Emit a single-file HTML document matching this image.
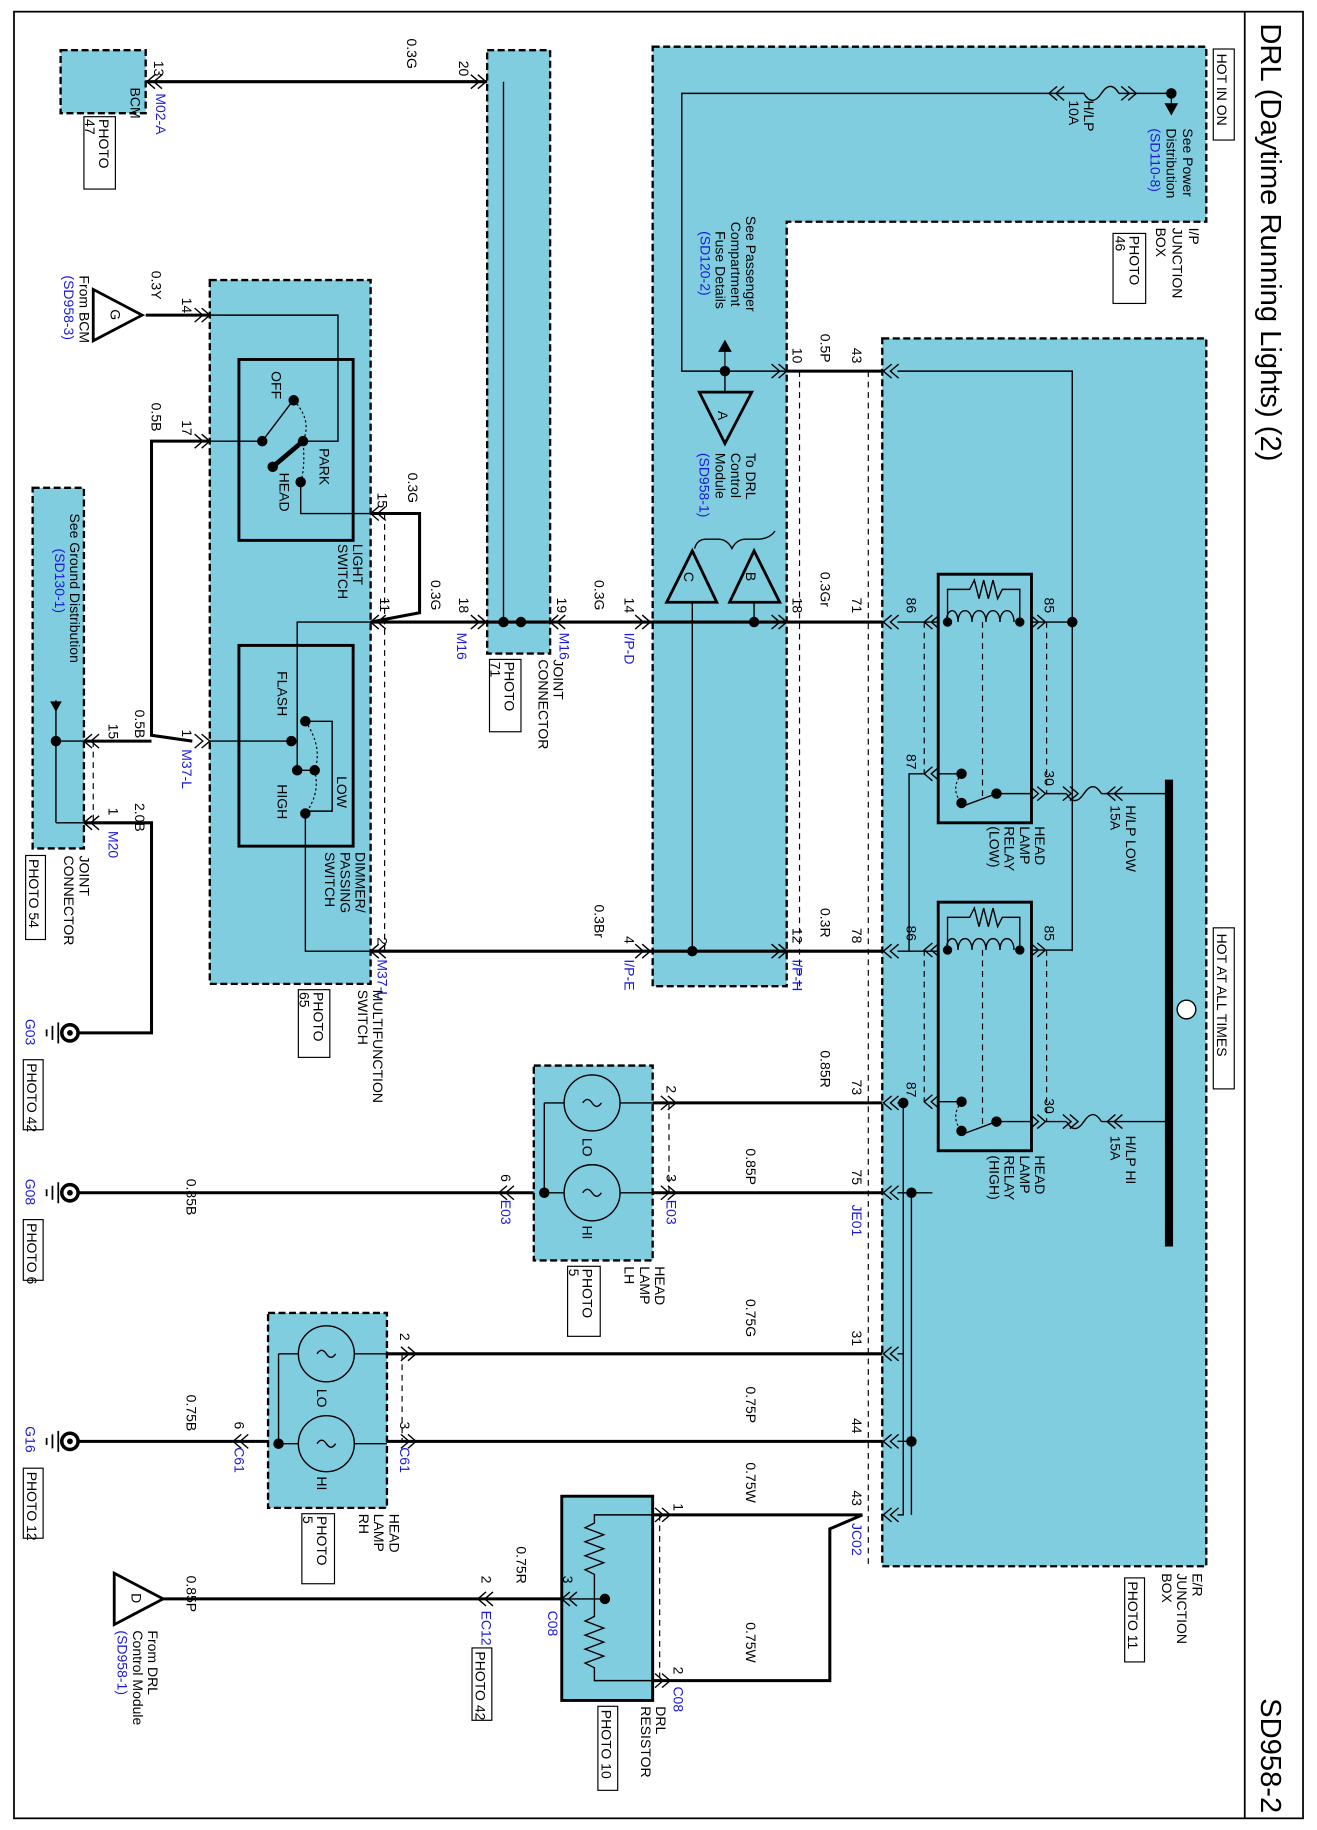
<!DOCTYPE html>
<html><head><meta charset="utf-8"><style>
html,body{margin:0;padding:0;background:#fff}
svg{display:block}
text{font-family:"Liberation Sans",Arial,sans-serif;font-size:12px;fill:#000}
.b{fill:#1a1adb}
.w{stroke:#000;stroke-width:2.6;fill:none}
.t{stroke:#000;stroke-width:1.2;fill:none}
.bx{fill:#80cde0;stroke:#000;stroke-width:2;stroke-dasharray:6 3}
.d{stroke:#000;stroke-width:1;stroke-dasharray:5 4;fill:none}
.k{stroke:#000;stroke-width:2.4;fill:none}
</style></head><body>
<svg width="1317" height="1830" viewBox="0 0 1130 1568" preserveAspectRatio="none" xmlns="http://www.w3.org/2000/svg">
<defs>
<g id="cv"><path d="M7,-6 L0,0 L7,6 M13,-6 L6,0 L13,6" fill="none" stroke="#000" stroke-width="1.2"/></g>
<g id="cr"><path d="M-7,-6 L0,0 L-7,6 M-13,-6 L-6,0 L-13,6" fill="none" stroke="#000" stroke-width="1.2"/></g>
<g id="dot"><circle r="4.5" fill="#000"/></g>
<g id="gnd">
<circle cx="60" cy="0" r="7" fill="#fff" stroke="#000" stroke-width="3"/><circle cx="60" cy="0" r="2.5" fill="#000"/>
<path d="M50,-9 V9 M45,-6 V6 M40,-3 V3" stroke="#000" stroke-width="1.5"/>
</g>
</defs>
<rect x="12" y="10" width="1106" height="1548" fill="none" stroke="#000" stroke-width="1.5"/>
<line x1="1068" y1="10" x2="1068" y2="1558" stroke="#000" stroke-width="1.5"/>
<text transform="translate(1082,20) rotate(90)" style="font-size:25px">DRL (Daytime Running Lights) (2)</text>
<text transform="translate(1082,1455) rotate(90)" style="font-size:25px">SD958-2</text>

<rect class="bx" x="52" y="43" width="73" height="54"/>
<rect class="bx" x="418" y="43" width="54" height="517"/>
<path class="bx" d="M560,40 H1035 V190 H675 V845 H560 Z"/>
<rect class="bx" x="757" y="290" width="278" height="1052"/>
<rect class="bx" x="180" y="240" width="138" height="603"/>
<rect class="bx" x="28" y="418" width="44" height="309"/>
<rect class="bx" x="458" y="913" width="102" height="167"/>
<rect class="bx" x="230" y="1125" width="102" height="167"/>
<rect x="482" y="1282" width="78" height="175" fill="#80cde0" stroke="#000" stroke-width="2.5"/>

<path class="w" d="M125,70 H418"/>
<use href="#cv" x="126" y="70"/><use href="#cr" x="417" y="70"/>
<text transform="translate(132,52) rotate(90)">13</text>
<text class="b" transform="translate(134,80) rotate(90)">M02-A</text>
<text transform="translate(349,33) rotate(90)">0.3G</text>
<text transform="translate(394,52) rotate(90)">20</text>
<text transform="translate(112,75) rotate(90)">BCM</text>
<rect x="72" y="100" width="27" height="62" fill="none" stroke="#000"/>
<text transform="translate(85,102) rotate(90)">PHOTO</text><text transform="translate(73,102) rotate(90)">47</text>
<path class="t" d="M432,70 V533"/>
<use href="#dot" x="432" y="533"/><use href="#dot" x="447" y="533"/>
<text transform="translate(475,565) rotate(90)">JOINT</text>
<text transform="translate(462,565) rotate(90)">CONNECTOR</text>
<rect x="420" y="565" width="27" height="62" fill="none" stroke="#000"/>
<text transform="translate(433,567) rotate(90)">PHOTO</text><text transform="translate(421,567) rotate(90)">71</text>

<path class="t" d="M1005,80 H960 M930,80 H585 V318 H675"/>
<path d="M960,80 q-7,-12 -15,0 q-8,12 -15,0" class="t"/>
<use href="#cr" x="975" y="80"/><use href="#cv" x="900" y="80"/>
<use href="#dot" x="1005" y="80"/>
<path d="M1005,80 V90 M1005,98 l-5,-9 h10 z" stroke="#000" fill="#000"/>
<rect x="1041" y="42" width="18" height="78" fill="#fff" stroke="#000"/>
<text transform="translate(1044,46) rotate(90)">HOT IN ON</text>
<text transform="translate(1015,110) rotate(90)">See Power</text>
<text transform="translate(1001,110) rotate(90)">Distribution</text>
<text class="b" transform="translate(987,110) rotate(90)">(SD110-8)</text>
<text transform="translate(930,86) rotate(90)">H/LP</text>
<text transform="translate(917,86) rotate(90)">10A</text>
<text transform="translate(1020,195) rotate(90)">I/P</text>
<text transform="translate(1006,195) rotate(90)">JUNCTION</text>
<text transform="translate(992,195) rotate(90)">BOX</text>
<rect x="955" y="200" width="28" height="60" fill="none" stroke="#000"/>
<text transform="translate(969,202) rotate(90)">PHOTO</text><text transform="translate(957,202) rotate(90)">46</text>
<text transform="translate(640,185) rotate(90)">See Passenger</text>
<text transform="translate(627,190) rotate(90)">Compartment</text>
<text transform="translate(614,198) rotate(90)">Fuse Details</text>
<text class="b" transform="translate(601,198) rotate(90)">(SD120-2)</text>
<use href="#dot" x="622" y="318"/>
<path d="M622,318 V300 M622,292 l-5,9 h10 z" stroke="#000" fill="#000"/>
<path d="M622,318 V336" class="t"/>
<path d="M600,336 H645 L622,380 Z" class="k"/><text transform="translate(616,352) rotate(90)">A</text>
<text transform="translate(640,388) rotate(90)">To DRL</text>
<text transform="translate(627,388) rotate(90)">Control</text>
<text transform="translate(614,388) rotate(90)">Module</text>
<text class="b" transform="translate(600,388) rotate(90)">(SD958-1)</text>
<path d="M665,455 Q660,462 650,462 L640,462 Q632,462 628,470 Q624,462 616,462 L606,462 Q598,462 596,470" class="t"/>
<path d="M626,516 H669 L647,472 Z" class="k"/><text transform="translate(640,490) rotate(90)">B</text>
<path d="M572,516 H615 L594,472 Z" class="k"/><text transform="translate(587,490) rotate(90)">C</text>
<path class="t" d="M647,516 V533 M594,516 V815"/>
<use href="#dot" x="647" y="533"/><use href="#dot" x="594" y="815"/>

<path class="w" d="M675,318 H757"/>
<use href="#cr" x="675" y="318"/><use href="#cv" x="758" y="318"/>
<path class="t" d="M770,318 H920 V815"/>
<text transform="translate(680,298) rotate(90)">10</text>
<text transform="translate(704,286) rotate(90)">0.5P</text>
<text transform="translate(731,298) rotate(90)">43</text>
<line x1="686" y1="318" x2="686" y2="845" class="d"/><line x1="745" y1="318" x2="745" y2="1340" class="d"/>

<path class="w" d="M318,533 H757"/>
<path class="t" d="M560,533 H675"/>
<use href="#cv" x="318" y="533"/><use href="#cr" x="417" y="533"/><use href="#cv" x="472" y="533"/>
<use href="#cr" x="558" y="533"/><use href="#cr" x="675" y="533"/><use href="#cv" x="758" y="533"/>
<text transform="translate(326,512) rotate(90)">11</text>
<text transform="translate(370,497) rotate(90)">0.3G</text>
<text transform="translate(394,512) rotate(90)">18</text>
<text class="b" transform="translate(392,542) rotate(90)">M16</text>
<text transform="translate(478,512) rotate(90)">19</text>
<text class="b" transform="translate(480,542) rotate(90)">M16</text>
<text transform="translate(510,497) rotate(90)">0.3G</text>
<text transform="translate(536,512) rotate(90)">14</text>
<text class="b" transform="translate(536,542) rotate(90)">I/P-D</text>
<text transform="translate(680,512) rotate(90)">18</text>
<text transform="translate(704,490) rotate(90)">0.3Gr</text>
<text transform="translate(731,512) rotate(90)">71</text>
<path class="t" d="M770,533 H805"/>

<path class="w" d="M318,815 H757"/>
<path class="t" d="M560,815 H675"/>
<use href="#cv" x="318" y="815"/><use href="#cr" x="558" y="815"/><use href="#cr" x="675" y="815"/><use href="#cv" x="758" y="815"/>
<text transform="translate(324,803) rotate(90)">2</text>
<text class="b" transform="translate(324,822) rotate(90)">M37-L</text>
<text transform="translate(510,775) rotate(90)">0.3Br</text>
<text transform="translate(536,802) rotate(90)">4</text>
<text class="b" transform="translate(536,822) rotate(90)">I/P-E</text>
<text transform="translate(680,795) rotate(90)">12</text>
<text class="b" transform="translate(680,822) rotate(90)">I/P-H</text>
<text transform="translate(704,778) rotate(90)">0.3R</text>
<text transform="translate(731,795) rotate(90)">78</text>
<path class="t" d="M770,815 H805"/>

<g id="relay">
<rect x="805" y="492" width="80" height="213" fill="none" stroke="#000" stroke-width="2.5"/>
<path class="t" d="M812,533 C812,520 822,520 822,533 C822,520 834,520 834,533 C834,520 846,520 846,533 C846,520 858,520 858,533 C858,520 870,520 870,533"/>
<path class="t" d="M813,533 V505 H832 l4,-8 4,16 4,-16 4,16 4,-16 4,16 4,-8 H875 V533"/>
<circle cx="813" cy="533" r="4" fill="#000"/><circle cx="875" cy="533" r="4" fill="#000"/>
<path class="t" d="M885,533 H920 M885,680 H855 M805,663 H825"/>
<use href="#dot" x="825" y="663"/><use href="#dot" x="825" y="688"/><use href="#dot" x="855" y="680"/>
<path class="t" d="M855,680 L828,690"/>
<path d="M825,663 Q815,676 825,688" stroke="#000" fill="none" stroke-dasharray="2 2"/>
<line x1="843" y1="533" x2="843" y2="683" class="d"/>
<line x1="793" y1="533" x2="793" y2="663" class="d"/>
<line x1="898" y1="533" x2="898" y2="680" class="d"/>
<use href="#cv" x="793" y="533"/><use href="#cr" x="897" y="533"/>
<use href="#cv" x="793" y="663"/><use href="#cr" x="897" y="680"/>
<text transform="translate(778,512) rotate(90)">86</text>
<text transform="translate(896,512) rotate(90)">85</text>
<text transform="translate(778,646) rotate(90)">87</text>
<text transform="translate(896,660) rotate(90)">30</text>
</g>
<use href="#relay" x="0" y="281"/>
<use href="#dot" x="920" y="533"/>
<path class="t" d="M793,663 H780 V815"/>
<text transform="translate(888,708) rotate(90)">HEAD</text><text transform="translate(875,708) rotate(90)">LAMP</text>
<text transform="translate(862,708) rotate(90)">RELAY</text><text transform="translate(849,708) rotate(90)">(LOW)</text>
<text transform="translate(888,990) rotate(90)">HEAD</text><text transform="translate(875,990) rotate(90)">LAMP</text>
<text transform="translate(862,990) rotate(90)">RELAY</text><text transform="translate(849,990) rotate(90)">(HIGH)</text>
<line x1="1003" y1="668" x2="1003" y2="1068" stroke="#000" stroke-width="7"/>
<path class="t" d="M897,680 H915 M945,680 H1003 M897,961 H915 M945,961 H1003"/>
<path d="M945,680 q-7,-12 -15,0 q-8,12 -15,0" class="t"/>
<path d="M945,961 q-7,-12 -15,0 q-8,12 -15,0" class="t"/>
<use href="#cv" x="950" y="680"/><use href="#cr" x="925" y="680"/>
<use href="#cv" x="950" y="961"/><use href="#cr" x="925" y="961"/>
<text transform="translate(966,690) rotate(90)">H/LP LOW</text><text transform="translate(953,690) rotate(90)">15A</text>
<text transform="translate(966,973) rotate(90)">H/LP HI</text><text transform="translate(953,973) rotate(90)">15A</text>
<circle cx="1018" cy="865" r="8" fill="#fff" stroke="#000" stroke-width="1.2"/>
<rect x="1041" y="795" width="18" height="138" fill="#fff" stroke="#000"/>
<text transform="translate(1044,800) rotate(90)">HOT AT ALL TIMES</text>

<path class="t" d="M770,945 H775 V1298 H770 M770,1022 H800 M770,1160 H775 M770,1235 H782 M782,1022 V1298"/>
<use href="#dot" x="775" y="945"/><use href="#dot" x="782" y="1022"/><use href="#dot" x="782" y="1235"/>
<path class="w" d="M560,945 H757 M560,1022 H757 M332,1160 H757 M332,1235 H757"/>
<path class="w" d="M63,1022 H458 M63,1235 H230"/>
<use href="#cr" x="580" y="945"/><use href="#cr" x="580" y="1022"/><use href="#cv" x="758" y="945"/><use href="#cv" x="758" y="1022"/>
<use href="#cr" x="357" y="1160"/><use href="#cr" x="357" y="1235"/><use href="#cv" x="758" y="1160"/><use href="#cv" x="758" y="1235"/><use href="#cv" x="758" y="1298"/>
<use href="#cv" x="428" y="1022"/><use href="#cv" x="200" y="1235"/>
<line x1="574" y1="945" x2="574" y2="1022" class="d"/><line x1="345" y1="1160" x2="345" y2="1235" class="d"/>
<text transform="translate(572,930) rotate(90)">2</text><text transform="translate(572,1006) rotate(90)">3</text>
<text class="b" transform="translate(572,1028) rotate(90)">E03</text>
<text transform="translate(430,1006) rotate(90)">6</text><text class="b" transform="translate(430,1028) rotate(90)">E03</text>
<text transform="translate(704,900) rotate(90)">0.85R</text><text transform="translate(640,984) rotate(90)">0.85P</text>
<text transform="translate(731,925) rotate(90)">73</text><text transform="translate(731,1002) rotate(90)">75</text>
<text class="b" transform="translate(731,1032) rotate(90)">JE01</text>
<text transform="translate(160,1010) rotate(90)">0.85B</text>
<text transform="translate(640,1113) rotate(90)">0.75G</text><text transform="translate(640,1188) rotate(90)">0.75P</text>
<text transform="translate(640,1253) rotate(90)">0.75W</text><text transform="translate(640,1390) rotate(90)">0.75W</text>
<text transform="translate(731,1140) rotate(90)">31</text><text transform="translate(731,1215) rotate(90)">44</text>
<text transform="translate(731,1277) rotate(90)">43</text><text class="b" transform="translate(731,1305) rotate(90)">JC02</text>
<text transform="translate(343,1142) rotate(90)">2</text><text transform="translate(343,1218) rotate(90)">3</text>
<text class="b" transform="translate(343,1240) rotate(90)">C61</text>
<text transform="translate(201,1218) rotate(90)">6</text><text class="b" transform="translate(201,1240) rotate(90)">C61</text>
<text transform="translate(160,1195) rotate(90)">0.75B</text>
<g id="lamp">
<circle cx="508" cy="945" r="24" class="t"/><circle cx="508" cy="1022" r="24" class="t"/>
<path class="t" d="M500,945 q4,-6 8,0 q4,6 8,0 M500,1022 q4,-6 8,0 q4,6 8,0"/>
<path class="t" d="M467,945 H484 M532,945 H560 M467,1022 H484 M532,1022 H560 M467,945 V1022"/>
<use href="#dot" x="467" y="1022"/>
<text transform="translate(500,975) rotate(90)">LO</text>
<text transform="translate(500,1050) rotate(90)">HI</text>
</g>
<use href="#lamp" x="-228" y="215"/>
<text transform="translate(562,1085) rotate(90)">HEAD</text><text transform="translate(549,1085) rotate(90)">LAMP</text><text transform="translate(536,1085) rotate(90)">LH</text>
<rect x="487" y="1085" width="28" height="60" fill="none" stroke="#000"/>
<text transform="translate(500,1087) rotate(90)">PHOTO</text><text transform="translate(488,1087) rotate(90)">5</text>
<text transform="translate(334,1297) rotate(90)">HEAD</text><text transform="translate(321,1297) rotate(90)">LAMP</text><text transform="translate(308,1297) rotate(90)">RH</text>
<rect x="259" y="1297" width="28" height="60" fill="none" stroke="#000"/>
<text transform="translate(272,1299) rotate(90)">PHOTO</text><text transform="translate(260,1299) rotate(90)">5</text>
<use href="#gnd" x="0" y="885"/><use href="#gnd" x="0" y="1022"/><use href="#gnd" x="0" y="1235"/>
<text class="b" transform="translate(22,873) rotate(90)">G03</text>
<rect x="20" y="908" width="17" height="60" fill="none" stroke="#000"/><text transform="translate(23,911) rotate(90)">PHOTO 42</text>
<text class="b" transform="translate(22,1010) rotate(90)">G08</text>
<rect x="20" y="1045" width="17" height="52" fill="none" stroke="#000"/><text transform="translate(23,1048) rotate(90)">PHOTO 6</text>
<text class="b" transform="translate(22,1222) rotate(90)">G16</text>
<rect x="20" y="1258" width="17" height="60" fill="none" stroke="#000"/><text transform="translate(23,1261) rotate(90)">PHOTO 12</text>

<path class="w" d="M560,1298 H720 L740,1298 M740,1298 L712,1310 V1440 H560"/>
<use href="#cr" x="575" y="1298"/><use href="#cr" x="575" y="1440"/>
<line x1="566" y1="1298" x2="566" y2="1440" class="d"/>
<text transform="translate(578,1288) rotate(90)">1</text><text transform="translate(578,1428) rotate(90)">2</text>
<text class="b" transform="translate(578,1445) rotate(90)">C08</text>
<path class="t" d="M560,1298 H510 V1305 l-8,4 16,6 -16,6 16,6 -16,6 16,6 -16,6 8,4 V1370 V1385 l-8,4 16,6 -16,6 16,6 -16,6 16,6 -16,6 8,4 V1440 H560"/>
<use href="#dot" x="519" y="1370"/>
<path class="t" d="M482,1370 H519"/>
<path class="w" d="M140,1370 H482"/>
<use href="#cv" x="482" y="1370"/><use href="#cv" x="410" y="1370"/>
<text transform="translate(483,1350) rotate(90)">3</text><text class="b" transform="translate(470,1380) rotate(90)">C08</text>
<text transform="translate(443,1325) rotate(90)">0.75R</text>
<text transform="translate(413,1350) rotate(90)">2</text><text class="b" transform="translate(413,1380) rotate(90)">EC12</text>
<rect x="405" y="1412" width="17" height="62" fill="none" stroke="#000"/><text transform="translate(408,1415) rotate(90)">PHOTO 42</text>
<text transform="translate(160,1350) rotate(90)">0.85P</text>
<path d="M98,1348 V1392 L140,1370 Z" class="k"/><text transform="translate(113,1365) rotate(90)">D</text>
<text transform="translate(127,1397) rotate(90)">From DRL</text><text transform="translate(114,1397) rotate(90)">Control Module</text>
<text class="b" transform="translate(101,1397) rotate(90)">(SD958-1)</text>
<text transform="translate(563,1462) rotate(90)">DRL</text><text transform="translate(550,1462) rotate(90)">RESISTOR</text>
<rect x="513" y="1462" width="17" height="72" fill="none" stroke="#000"/><text transform="translate(516,1465) rotate(90)">PHOTO 10</text>
<text transform="translate(1023,1348) rotate(90)">E/R</text><text transform="translate(1010,1348) rotate(90)">JUNCTION</text><text transform="translate(997,1348) rotate(90)">BOX</text>
<rect x="965" y="1352" width="17" height="72" fill="none" stroke="#000"/><text transform="translate(968,1355) rotate(90)">PHOTO 11</text>

<path class="w" d="M125,270 H180"/>
<path d="M80,248 V292 L122,270 Z" class="k"/><text transform="translate(95,265) rotate(90)">G</text>
<use href="#cr" x="180" y="270"/><text transform="translate(156,255) rotate(90)">14</text>
<text transform="translate(130,232) rotate(90)">0.3Y</text>
<text transform="translate(68,236) rotate(90)">From BCM</text><text class="b" transform="translate(55,236) rotate(90)">(SD958-3)</text>
<path class="t" d="M180,270 H290 V378 H260"/>
<rect x="205" y="308" width="98" height="155" fill="none" stroke="#000" stroke-width="2.5"/>
<path class="t" d="M180,378 H225 L250,345"/>
<use href="#dot" x="225" y="378"/><use href="#dot" x="252" y="343"/><use href="#dot" x="260" y="378"/><use href="#dot" x="234" y="400"/><use href="#dot" x="258" y="413"/>
<path d="M260,378 L234,400" stroke="#000" stroke-width="4"/>
<path d="M252,343 Q268,360 260,378 Q262,400 258,413" stroke="#000" fill="none" stroke-dasharray="2 2"/>
<path class="t" d="M258,413 V440 H318"/>
<text transform="translate(233,318) rotate(90)">OFF</text>
<text transform="translate(274,384) rotate(90)">PARK</text>
<text transform="translate(240,405) rotate(90)">HEAD</text>
<text transform="translate(303,466) rotate(90)">LIGHT</text><text transform="translate(290,466) rotate(90)">SWITCH</text>
<path class="w" d="M318,440 H360 V525 L318,533"/>
<use href="#cv" x="318" y="440"/>
<text transform="translate(324,422) rotate(90)">15</text><text transform="translate(350,405) rotate(90)">0.3G</text>
<use href="#cr" x="180" y="378"/><text transform="translate(156,360) rotate(90)">17</text>
<path class="w" d="M180,378 H130 V630 L165,635"/>
<text transform="translate(130,345) rotate(90)">0.5B</text>
<use href="#cr" x="180" y="635"/><text transform="translate(156,625) rotate(90)">1</text>
<text class="b" transform="translate(156,642) rotate(90)">M37-L</text>
<rect x="205" y="553" width="98" height="172" fill="none" stroke="#000" stroke-width="2.5"/>
<path class="t" d="M318,533 H255 V660 H270"/>
<path class="t" d="M180,635 H250"/>
<use href="#dot" x="250" y="635"/><use href="#dot" x="270" y="660"/><use href="#dot" x="255" y="660"/><use href="#dot" x="262" y="618"/><use href="#dot" x="262" y="697"/>
<path class="t" d="M262,618 H285 V695 H262 M262,697 V815 H318"/>
<path d="M262,618 Q277,640 270,660 Q275,680 262,697" stroke="#000" fill="none" stroke-dasharray="2 2"/>
<text transform="translate(238,575) rotate(90)">FLASH</text>
<text transform="translate(289,665) rotate(90)">LOW</text>
<text transform="translate(238,672) rotate(90)">HIGH</text>
<text transform="translate(305,730) rotate(90)">DIMMER/</text><text transform="translate(292,730) rotate(90)">PASSING</text><text transform="translate(279,730) rotate(90)">SWITCH</text>
<line x1="330" y1="440" x2="330" y2="815" class="d"/>
<text transform="translate(320,848) rotate(90)">MULTIFUNCTION</text><text transform="translate(307,848) rotate(90)">SWITCH</text>
<rect x="256" y="848" width="27" height="58" fill="none" stroke="#000"/>
<text transform="translate(269,850) rotate(90)">PHOTO</text><text transform="translate(257,850) rotate(90)">65</text>

<path class="w" d="M72,635 H130 M72,705 H130 V885 H67"/>
<path class="t" d="M48,635 H72 M48,705 H72 M48,600 V705"/>
<path d="M48,610 l-5,-9 h10 z" fill="#000"/>
<use href="#dot" x="48" y="635"/>
<use href="#cv" x="72" y="635"/><use href="#cv" x="72" y="705"/>
<line x1="80" y1="635" x2="80" y2="705" class="d"/>
<text transform="translate(93,620) rotate(90)">15</text><text transform="translate(116,608) rotate(90)">0.5B</text>
<text transform="translate(93,692) rotate(90)">1</text><text class="b" transform="translate(93,712) rotate(90)">M20</text>
<text transform="translate(116,688) rotate(90)">2.0B</text>
<text transform="translate(60,440) rotate(90)">See Ground Distribution</text>
<text class="b" transform="translate(47,470) rotate(90)">(SD130-1)</text>
<text transform="translate(68,733) rotate(90)">JOINT</text><text transform="translate(55,733) rotate(90)">CONNECTOR</text>
<rect x="22" y="733" width="17" height="72" fill="none" stroke="#000"/><text transform="translate(25,736) rotate(90)">PHOTO 54</text>
</svg>
</body></html>
